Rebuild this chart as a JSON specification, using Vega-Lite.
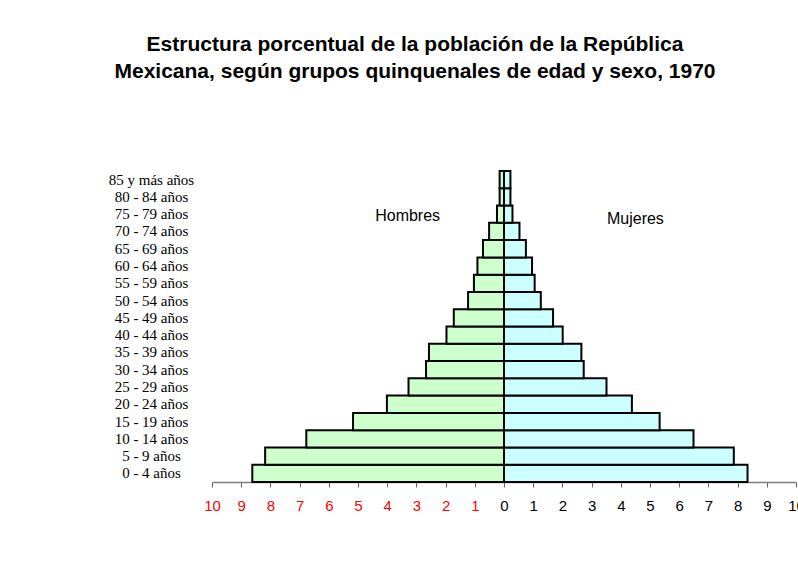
{
  "$schema": "https://vega.github.io/schema/vega-lite/v6.json",
  "width": 584,
  "height": 311,
  "autosize": {"type": "none"},
  "padding": {"left": 212, "top": 171, "right": 2, "bottom": 106},
  "background": "white",
  "title": {
    "text": ["Estructura porcentual de la población de la República", "Mexicana, según grupos quinquenales de edad y sexo, 1970"],
    "font": "Liberation Sans",
    "fontSize": 21,
    "fontWeight": "bold",
    "color": "black",
    "anchor": "middle",
    "dx": -89,
    "offset": 88,
    "lineHeight": 27
  },
  "config": {
    "view": {"stroke": null},
    "axisY": {
      "title": null,
      "ticks": false,
      "domain": false,
      "labelAlign": "center",
      "labelPadding": 61,
      "labelFont": "Liberation Serif",
      "labelFontSize": 15,
      "labelColor": "black"
    },
    "axisX": {
      "title": null,
      "grid": false,
      "labelFont": "Liberation Sans",
      "labelFontSize": 15,
      "labelPadding": 11,
      "labelFlush": false,
      "labelOverlap": false,
      "tickSize": 5,
      "tickColor": "#666666",
      "domainColor": "#808080",
      "domainWidth": 1.5
    }
  },
  "data": {
    "values": [
      {"grupo": "0 - 4 años", "sexo": "Hombres", "valor": -8.62},
      {"grupo": "5 - 9 años", "sexo": "Hombres", "valor": -8.18},
      {"grupo": "10 - 14 años", "sexo": "Hombres", "valor": -6.77},
      {"grupo": "15 - 19 años", "sexo": "Hombres", "valor": -5.17},
      {"grupo": "20 - 24 años", "sexo": "Hombres", "valor": -4.01},
      {"grupo": "25 - 29 años", "sexo": "Hombres", "valor": -3.27},
      {"grupo": "30 - 34 años", "sexo": "Hombres", "valor": -2.67},
      {"grupo": "35 - 39 años", "sexo": "Hombres", "valor": -2.57},
      {"grupo": "40 - 44 años", "sexo": "Hombres", "valor": -1.97},
      {"grupo": "45 - 49 años", "sexo": "Hombres", "valor": -1.72},
      {"grupo": "50 - 54 años", "sexo": "Hombres", "valor": -1.23},
      {"grupo": "55 - 59 años", "sexo": "Hombres", "valor": -1.03},
      {"grupo": "60 - 64 años", "sexo": "Hombres", "valor": -0.91},
      {"grupo": "65 - 69 años", "sexo": "Hombres", "valor": -0.72},
      {"grupo": "70 - 74 años", "sexo": "Hombres", "valor": -0.51},
      {"grupo": "75 - 79 años", "sexo": "Hombres", "valor": -0.24},
      {"grupo": "80 - 84 años", "sexo": "Hombres", "valor": -0.15},
      {"grupo": "85 y más años", "sexo": "Hombres", "valor": -0.15},
      {"grupo": "0 - 4 años", "sexo": "Mujeres", "valor": 8.34},
      {"grupo": "5 - 9 años", "sexo": "Mujeres", "valor": 7.87},
      {"grupo": "10 - 14 años", "sexo": "Mujeres", "valor": 6.49},
      {"grupo": "15 - 19 años", "sexo": "Mujeres", "valor": 5.33},
      {"grupo": "20 - 24 años", "sexo": "Mujeres", "valor": 4.38},
      {"grupo": "25 - 29 años", "sexo": "Mujeres", "valor": 3.51},
      {"grupo": "30 - 34 años", "sexo": "Mujeres", "valor": 2.73},
      {"grupo": "35 - 39 años", "sexo": "Mujeres", "valor": 2.65},
      {"grupo": "40 - 44 años", "sexo": "Mujeres", "valor": 2.01},
      {"grupo": "45 - 49 años", "sexo": "Mujeres", "valor": 1.68},
      {"grupo": "50 - 54 años", "sexo": "Mujeres", "valor": 1.26},
      {"grupo": "55 - 59 años", "sexo": "Mujeres", "valor": 1.05},
      {"grupo": "60 - 64 años", "sexo": "Mujeres", "valor": 0.96},
      {"grupo": "65 - 69 años", "sexo": "Mujeres", "valor": 0.75},
      {"grupo": "70 - 74 años", "sexo": "Mujeres", "valor": 0.53},
      {"grupo": "75 - 79 años", "sexo": "Mujeres", "valor": 0.29},
      {"grupo": "80 - 84 años", "sexo": "Mujeres", "valor": 0.22},
      {"grupo": "85 y más años", "sexo": "Mujeres", "valor": 0.22}
    ]
  },
  "layer": [
    {
      "mark": {"type": "bar", "stroke": "black", "strokeWidth": 2},
      "encoding": {
        "y": {
          "field": "grupo",
          "type": "nominal",
          "sort": ["85 y más años", "80 - 84 años", "75 - 79 años", "70 - 74 años", "65 - 69 años", "60 - 64 años", "55 - 59 años", "50 - 54 años", "45 - 49 años", "40 - 44 años", "35 - 39 años", "30 - 34 años", "25 - 29 años", "20 - 24 años", "15 - 19 años", "10 - 14 años", "5 - 9 años", "0 - 4 años"],
          "scale": {"paddingInner": 0, "paddingOuter": 0}
        },
        "x": {
          "field": "valor",
          "type": "quantitative",
          "scale": {"domain": [-10, 10], "nice": false},
          "axis": {
            "values": [-10, -9, -8, -7, -6, -5, -4, -3, -2, -1, 0, 1, 2, 3, 4, 5, 6, 7, 8, 9, 10],
            "labelExpr": "abs(datum.value)",
            "labelColor": {"condition": {"test": "datum.value < 0", "value": "#FF0000"}, "value": "black"}
          }
        },
        "fill": {
          "field": "sexo",
          "type": "nominal",
          "scale": {"domain": ["Hombres", "Mujeres"], "range": ["#CCFFCC", "#CCFFFF"]},
          "legend": null
        }
      }
    },
    {
      "data": {"values": [{"etiqueta": "Hombres"}]},
      "mark": {"type": "text", "font": "Liberation Sans", "fontSize": 16, "fill": "black", "dy": 2},
      "encoding": {
        "text": {"field": "etiqueta", "type": "nominal"},
        "x": {
          "datum": -3.3,
          "type": "quantitative",
          "axis": {
            "values": [-10, -9, -8, -7, -6, -5, -4, -3, -2, -1, 0, 1, 2, 3, 4, 5, 6, 7, 8, 9, 10],
            "labelExpr": "abs(datum.value)",
            "labelColor": {"condition": {"test": "datum.value < 0", "value": "#FF0000"}, "value": "black"}
          }
        },
        "y": {"datum": "75 - 79 años"}
      }
    },
    {
      "data": {"values": [{"etiqueta": "Mujeres"}]},
      "mark": {"type": "text", "font": "Liberation Sans", "fontSize": 16, "fill": "black", "dy": -12},
      "encoding": {
        "text": {"field": "etiqueta", "type": "nominal"},
        "x": {
          "datum": 4.5,
          "type": "quantitative",
          "axis": {
            "values": [-10, -9, -8, -7, -6, -5, -4, -3, -2, -1, 0, 1, 2, 3, 4, 5, 6, 7, 8, 9, 10],
            "labelExpr": "abs(datum.value)",
            "labelColor": {"condition": {"test": "datum.value < 0", "value": "#FF0000"}, "value": "black"}
          }
        },
        "y": {"datum": "70 - 74 años"}
      }
    }
  ]
}
